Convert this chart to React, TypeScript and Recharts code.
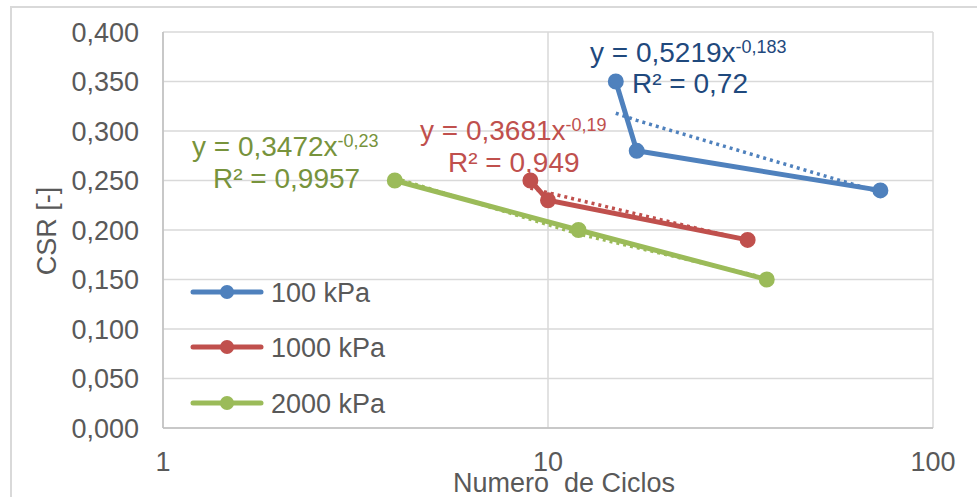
import React from 'react';
import { LineChart, Line, XAxis, YAxis, CartesianGrid, Customized } from 'recharts';

// Cycles to failure (N) and cyclic stress ratio per confining pressure
const cycles100 = [15, 17, 73];
const csr100 = [0.35, 0.28, 0.24];
const cycles1000 = [9, 10, 33];
const csr1000 = [0.25, 0.23, 0.19];
const cycles2000 = [4, 12, 37];
const csr2000 = [0.25, 0.2, 0.15];

// Power-law trendlines y = a * x^b (coefficients as printed on the chart)
const fit100 = { a: 0.5219, b: -0.183, r2: '0,72' };
const fit1000 = { a: 0.3681, b: -0.19, r2: '0,949' };
const fit2000 = { a: 0.3472, b: -0.23, r2: '0,9957' };

const seriesNames = ['100 kPa', '1000 kPa', '2000 kPa'];
const xTicks = [1, 10, 100];
const yTicks = [0, 0.05, 0.1, 0.15, 0.2, 0.25, 0.3, 0.35, 0.4];

const BLUE = '#4f81bd';
const RED = '#c0504d';
const GREEN = '#9bbb59';
const FONT = '"Liberation Sans", Arial, sans-serif';
const TEXT = '#595959';

const toPoints = (xs: number[], ys: number[]) => xs.map((x, i) => ({ x, y: ys[i] }));
const trend = (xs: number[], f: { a: number; b: number }) =>
  xs.map((x) => ({ x, y: f.a * Math.pow(x, f.b) }));

const fmtComma = (v: number, digits: number) => v.toFixed(digits).replace('.', ',');
const fmtCoef = (v: number) => String(v).replace('.', ',');

const series = [
  { name: seriesNames[0], color: BLUE, data: toPoints(cycles100, csr100), fit: trend(cycles100, fit100) },
  { name: seriesNames[1], color: RED, data: toPoints(cycles1000, csr1000), fit: trend(cycles1000, fit1000) },
  { name: seriesNames[2], color: GREEN, data: toPoints(cycles2000, csr2000), fit: trend(cycles2000, fit2000) },
];

const Equation = ({ x, y, f, color, rx, ry }: any) => (
  <g fontFamily={FONT} fill={color}>
    <text x={x} y={y} fontSize={28}>
      {`y = ${fmtCoef(f.a)}x`}
      <tspan dy={-9} fontSize={18}>{fmtCoef(f.b)}</tspan>
    </text>
    <text x={rx} y={ry} fontSize={28}>{`R² = ${f.r2}`}</text>
  </g>
);

const Overlay = () => (
  <g>
    {/* trendline equations */}
    <Equation x={590} y={62} rx={632} ry={93} f={fit100} color="#1f497d" />
    <Equation x={420} y={140} rx={448} ry={172} f={fit1000} color={RED} />
    <Equation x={192} y={156} rx={213} ry={188} f={fit2000} color="#77933c" />

    {/* legend */}
    {series.map((s, i) => {
      const cy = [292, 347, 403][i];
      return (
        <g key={s.name}>
          <line x1={193} x2={261} y1={cy} y2={cy} stroke={s.color} strokeWidth={5} strokeLinecap="round" />
          <circle cx={227} cy={cy} r={7} fill={s.color} />
          <text x={271} y={cy + 10} fontSize={27} fontFamily={FONT} fill={TEXT}>{s.name}</text>
        </g>
      );
    })}

    {/* axis titles */}
    <text x={453} y={492} fontSize={27} fontFamily={FONT} fill={TEXT} style={{ whiteSpace: 'pre' }}>
      {'Numero  de Ciclos'}
    </text>
    <text
      transform="translate(56,231) rotate(-90)"
      textAnchor="middle"
      fontSize={27}
      fontFamily={FONT}
      fill={TEXT}
    >
      CSR [-]
    </text>
  </g>
);

export default function App() {
  return (
    <div style={{ position: 'absolute', left: 0, top: 0, width: 977, height: 497, background: '#fff', overflow: 'hidden' }}>
      <div
        style={{
          position: 'absolute',
          left: 10,
          top: 6,
          width: 1000,
          height: 600,
          borderLeft: '2px solid #d9d9d9',
          borderTop: '2px solid #d9d9d9',
        }}
      />
      <LineChart
        width={977}
        height={497}
        margin={{ top: 32, right: 44, bottom: 0, left: 0 }}
        style={{ position: 'absolute', left: 0, top: 0 }}
      >
        <CartesianGrid stroke="#d9d9d9" strokeWidth={1.5} vertical horizontal />
        <XAxis
          dataKey="x"
          type="number"
          scale="log"
          domain={[1, 100]}
          ticks={xTicks}
          allowDataOverflow
          height={69}
          tickLine={false}
          tickSize={0}
          tickMargin={24}
          axisLine={{ stroke: '#bfbfbf', strokeWidth: 1.5 }}
          tick={{ fill: TEXT, fontSize: 27, fontFamily: FONT }}
        />
        <YAxis
          type="number"
          domain={[0, 0.4]}
          ticks={yTicks}
          width={163}
          tickLine={false}
          tickSize={0}
          tickMargin={24}
          axisLine={{ stroke: '#bfbfbf', strokeWidth: 1.5 }}
          tick={{ fill: TEXT, fontSize: 27, fontFamily: FONT }}
          tickFormatter={(v: number) => fmtComma(v, 3)}
        />
        {series.map((s) => (
          <Line
            key={`fit-${s.name}`}
            data={s.fit}
            dataKey="y"
            type="linear"
            stroke={s.color}
            strokeWidth={3.5}
            strokeDasharray="3 4"
            dot={false}
            activeDot={false}
            legendType="none"
            isAnimationActive={false}
          />
        ))}
        {series.map((s) => (
          <Line
            key={s.name}
            name={s.name}
            data={s.data}
            dataKey="y"
            type="linear"
            stroke={s.color}
            strokeWidth={5}
            dot={{ r: 7, fill: s.color, stroke: s.color, strokeWidth: 2 }}
            activeDot={false}
            isAnimationActive={false}
          />
        ))}
        <Customized component={Overlay} />
      </LineChart>
    </div>
  );
}
